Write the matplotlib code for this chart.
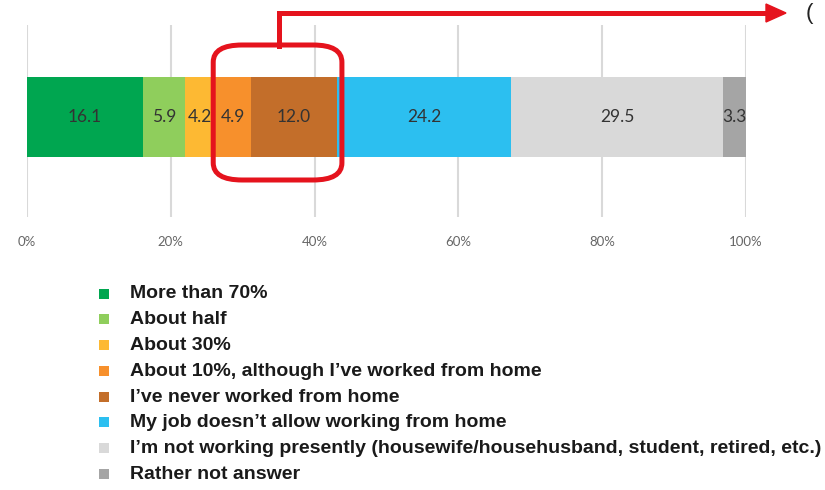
import matplotlib.pyplot as plt
from matplotlib.patches import FancyBboxPatch, Rectangle, Polygon
from matplotlib.lines import Line2D

# share of work done from home (%), one stacked bar
categories = [
    "More than 70%",
    "About half",
    "About 30%",
    "About 10%, although I\u2019ve worked from home",
    "I\u2019ve never worked from home",
    "My job doesn\u2019t allow working from home",
    "I\u2019m not working presently (housewife/househusband, student, retired, etc.)",
    "Rather not answer",
]
values = [16.1, 5.9, 4.2, 4.9, 12.0, 24.2, 29.5, 3.3]
colors = ["#00a650", "#8fce5c", "#fdb933", "#f7902c", "#c36e2a",
          "#2cbff0", "#d9d9d9", "#a5a5a5"]
xticks = [0, 20, 40, 60, 80, 100]
xtick_labels = ["0%", "20%", "40%", "60%", "80%", "100%"]

W, H = 825, 490
fig = plt.figure(figsize=(W / 100, H / 100), dpi=100)


def fx(px):
    return px / W


def fy(py):
    return 1 - py / H


ax = fig.add_axes([fx(27), fy(217), fx(746) - fx(27), fy(25) - fy(217)])

left = 0
for v, c in zip(values, colors):
    ax.barh(0, v, left=left, height=1.0, color=c, zorder=2)
    ax.text(left + v / 2, 0, f"{v:.1f}", ha="center", va="center",
            fontsize=12.5, color="#333333", family="Lato", zorder=3)
    left += v

ax.set_xlim(0, 100)
ax.set_ylim(-1.25, 1.15)
ax.set_xticks(xticks)
ax.set_xticklabels(xtick_labels, family="Lato", fontsize=9.5, color="#666666")
ax.set_yticks([])
ax.tick_params(axis="x", length=0, pad=14)
ax.grid(axis="x", color="#d9d9d9", linewidth=1.5, zorder=0)
for s in ax.spines.values():
    s.set_visible(False)

# highlight around the "about 10%" and "never" segments
red = "#e5131d"
x0 = sum(values[:3]) - 0.3
x1 = sum(values[:5]) + 0.7
bx0 = fx(27 + x0 * 7.19)
bx1 = fx(27 + x1 * 7.19)
box = FancyBboxPatch((bx0, fy(180)), bx1 - bx0, fy(45) - fy(180),
                     boxstyle="round,pad=0,rounding_size=0.035",
                     transform=fig.transFigure, fill=False,
                     edgecolor=red, linewidth=3.6, zorder=5)
fig.add_artist(box)

fig.add_artist(Line2D([fx(279), fx(279), fx(770)], [fy(46), fy(13), fy(13)],
                      transform=fig.transFigure, color=red, linewidth=3.6,
                      solid_joinstyle="miter"))
fig.add_artist(Polygon([[fx(766), fy(4)], [fx(786), fy(13)], [fx(766), fy(22)]],
                       closed=True, transform=fig.transFigure,
                       facecolor=red, edgecolor=red))
fig.text(fx(806), fy(14), "(", fontsize=16, color="#222222",
         va="center", ha="left", family="Liberation Sans")

# legend
row_y = [294, 319, 345, 371, 397, 422, 448, 474]
for lab, c, y in zip(categories, colors, row_y):
    fig.add_artist(Rectangle((fx(99), fy(y + 5)), fx(10), fy(0) - fy(10),
                             transform=fig.transFigure, facecolor=c,
                             edgecolor="none"))
    fig.text(fx(130), fy(y), lab, fontsize=14, fontweight="bold",
             family="Liberation Sans", color="#1a1a1a", va="center", ha="left")

fig.savefig("out.png", dpi=100, facecolor="white")
